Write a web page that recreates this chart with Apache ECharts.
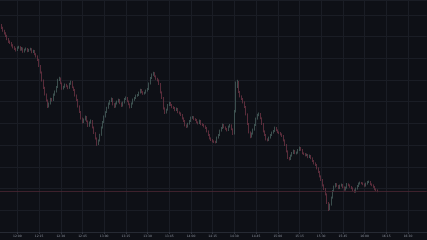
<!DOCTYPE html>
<html>
<head>
<meta charset="utf-8">
<script src="https://cdn.jsdelivr.net/npm/echarts@6/dist/echarts.min.js"></script>
<style>
html,body{margin:0;padding:0;background:#0e1016;}
#chart{width:427px;height:240px;}
</style>
</head>
<body>
<div id="chart"></div>
<script>
// 1-minute candles starting at 11:48
const startTime = '11:48';
const axisEndTime = '16:43';

const opens = [
20.95,20.68,20.41,20.12,19.87, 19.63,19.28,19.02,18.91,18.68, 18.47,18.31,18.18,18.42,18.49, 18.21,18.38,18.02,18.24,18.33,
18.09,18.22,18.31,17.98,18.12, 17.79,17.58,17.21,16.62,15.97, 15.18,14.43,13.77,13.18,12.52, 12.83,13.31,13.17,13.72,14.03,
14.48,15.21,15.38,14.87,14.32, 14.51,14.72,14.58,14.39,14.81, 15.02,14.47,14.21,13.68,13.22, 12.58,12.02,11.37,10.98,11.23,
11.52,11.08,10.61,10.92,11.12, 10.48,9.91,9.38,8.79,9.12, 9.71,10.42,10.98,11.53,11.97, 12.41,12.82,13.08,13.31,12.78,
12.52,12.83,13.02,13.21,12.88, 12.61,12.92,13.28,13.42,13.08, 12.79,12.48,12.83,13.22,13.38, 13.62,13.68,13.92,14.21,13.98,
13.82,13.91,14.12,14.28,14.83, 15.38,15.72,15.88,15.58,15.32, 15.18,14.82,13.98,13.42,12.38, 11.92,12.21,12.68,12.92,12.71,
12.48,12.42,12.18,12.32,11.98, 11.88,11.72,11.38,11.12,10.68, 10.52,10.81,11.08,11.42,11.48, 11.28,11.22,10.98,10.88,11.12,
10.78,10.72,10.58,10.42,10.08, 9.72,9.38,9.22,9.08,9.02, 8.98,9.42,9.68,10.12,10.38, 10.72,10.48,10.32,10.18,10.52,
10.68,10.28,9.82,12.02,14.58, 14.98,14.02,13.58,13.32,12.98, 12.52,11.78,10.82,9.98,9.52, 9.82,10.22,10.68,11.32,11.68,
11.82,11.38,10.82,10.08,9.72, 9.28,9.18,9.42,9.68,9.92, 10.08,10.42,10.18,9.98,9.92, 9.78,9.62,9.18,8.72,8.08,
7.42,7.28,7.62,7.88,8.12, 7.88,7.92,8.18,8.42,8.22, 7.88,7.82,7.68,7.72,7.48, 7.62,7.38,7.12,6.88,6.72,
6.38,6.02,5.58,5.22,4.68, 4.32,3.78,2.92,2.28,2.72, 3.42,4.08,4.52,4.78,4.62, 4.38,4.62,4.72,4.48,4.22,
4.42,4.78,4.68,4.52,4.38, 4.18,4.02,4.32,4.58,4.82, 4.92,4.88,4.78,4.62,4.82, 4.98,5.02,4.78,4.68,4.52,
4.28,4.18
];
const closes = [
20.68,20.41,20.12,19.87,19.63, 19.28,19.02,18.91,18.68,18.47, 18.31,18.18,18.42,18.49,18.21, 18.38,18.02,18.24,18.33,18.09,
18.22,18.31,17.98,18.12,17.79, 17.58,17.21,16.62,15.97,15.18, 14.43,13.77,13.18,12.52,12.83, 13.31,13.17,13.72,14.03,14.48,
15.21,15.38,14.87,14.32,14.51, 14.72,14.58,14.39,14.81,15.02, 14.47,14.21,13.68,13.22,12.58, 12.02,11.37,10.98,11.23,11.52,
11.08,10.61,10.92,11.12,10.48, 9.91,9.38,8.79,9.12,9.71, 10.42,10.98,11.53,11.97,12.41, 12.82,13.08,13.31,12.78,12.52,
12.83,13.02,13.21,12.88,12.61, 12.92,13.28,13.42,13.08,12.79, 12.48,12.83,13.22,13.38,13.62, 13.68,13.92,14.21,13.98,13.82,
13.91,14.12,14.28,14.83,15.38, 15.72,15.88,15.58,15.32,15.18, 14.82,13.98,13.42,12.38,11.92, 12.21,12.68,12.92,12.71,12.48,
12.42,12.18,12.32,11.98,11.88, 11.72,11.38,11.12,10.68,10.52, 10.81,11.08,11.42,11.48,11.28, 11.22,10.98,10.88,11.12,10.78,
10.72,10.58,10.42,10.08,9.72, 9.38,9.22,9.08,9.02,8.98, 9.42,9.68,10.12,10.38,10.72, 10.48,10.32,10.18,10.52,10.68,
10.28,9.82,12.02,14.58,14.98, 14.02,13.58,13.32,12.98,12.52, 11.78,10.82,9.98,9.52,9.82, 10.22,10.68,11.32,11.68,11.82,
11.38,10.82,10.08,9.72,9.28, 9.18,9.42,9.68,9.92,10.08, 10.42,10.18,9.98,9.92,9.78, 9.62,9.18,8.72,8.08,7.42,
7.28,7.62,7.88,8.12,7.88, 7.92,8.18,8.42,8.22,7.88, 7.82,7.68,7.72,7.48,7.62, 7.38,7.12,6.88,6.72,6.38,
6.02,5.58,5.22,4.68,4.32, 3.78,2.92,2.28,2.72,3.42, 4.08,4.52,4.78,4.62,4.38, 4.62,4.72,4.48,4.22,4.42,
4.78,4.68,4.52,4.38,4.18, 4.02,4.32,4.58,4.82,4.92, 4.88,4.78,4.62,4.82,4.98, 5.02,4.78,4.68,4.52,4.28,
4.18,4.08
];
const lows = [
20.55,20.30,20.02,19.75,19.50, 19.18,18.90,18.80,18.55,18.36, 18.20,18.05,18.10,18.33,18.12, 18.14,17.92,17.95,18.15,17.98,
18.01,18.14,17.88,17.90,17.68, 17.45,17.10,16.50,15.85,15.05, 14.30,13.65,13.05,12.40,12.45, 12.75,13.05,13.10,13.62,13.95,
14.40,15.10,14.78,14.22,14.25, 14.42,14.48,14.28,14.32,14.72, 14.38,14.10,13.55,13.10,12.45, 11.90,11.25,10.85,10.90,11.15,
10.98,10.50,10.52,10.84,10.36, 9.80,9.25,8.62,8.70,9.05, 9.62,10.35,10.90,11.45,11.90, 12.32,12.72,13.00,12.66,12.40,
12.44,12.75,12.94,12.78,12.50, 12.54,12.85,13.20,12.98,12.68, 12.36,12.40,12.75,13.12,13.30, 13.52,13.60,13.85,13.88,13.72,
13.74,13.84,14.04,14.20,14.75, 15.30,15.62,15.48,15.22,15.06, 14.70,13.86,13.30,12.25,11.80, 11.85,12.14,12.60,12.60,12.38,
12.30,12.08,12.10,11.88,11.76, 11.60,11.26,11.00,10.56,10.40, 10.45,10.74,11.00,11.32,11.18, 11.10,10.88,10.76,10.80,10.68,
10.60,10.46,10.30,9.96,9.60, 9.26,9.10,8.96,8.90,8.86, 8.90,9.34,9.60,10.04,10.30, 10.38,10.22,10.06,10.10,10.44,
10.18,9.70,9.75,11.95,14.40, 13.90,13.46,13.20,12.86,12.40, 11.66,10.70,9.86,9.38,9.44, 9.74,10.14,10.60,11.24,11.58,
11.28,10.70,9.96,9.60,9.16, 9.06,9.10,9.34,9.60,9.84, 10.00,10.08,9.88,9.80,9.66, 9.50,9.06,8.60,7.96,7.30,
7.16,7.20,7.54,7.80,7.78, 7.76,7.84,8.10,8.12,7.78, 7.70,7.56,7.58,7.38,7.40, 7.28,7.00,6.76,6.60,6.26,
5.90,5.46,5.10,4.56,4.20, 3.66,2.80,2.10,2.18,2.64, 3.34,4.00,4.44,4.52,4.28, 4.30,4.54,4.38,4.12,4.14,
4.34,4.58,4.42,4.28,4.08, 3.92,3.94,4.24,4.50,4.74, 4.78,4.68,4.52,4.54,4.74, 4.90,4.68,4.58,4.42,4.18,
4.08,3.98
];
const highs = [
21.08,20.80,20.52,20.22,19.98, 19.72,19.40,19.15,19.00,18.78, 18.58,18.42,18.55,18.62,18.58, 18.50,18.45,18.33,18.45,18.40,
18.32,18.42,18.38,18.22,18.20, 17.88,17.66,17.30,16.70,16.05, 15.25,14.52,13.85,13.25,12.95, 13.42,13.40,13.85,14.15,14.60,
15.32,15.52,15.45,14.95,14.62, 14.85,14.82,14.66,14.92,15.14, 15.10,14.55,14.30,13.75,13.30, 12.66,12.10,11.45,11.35,11.64,
11.60,11.15,11.05,11.25,11.20, 10.55,9.98,9.45,9.25,9.82, 10.55,11.10,11.65,12.08,12.52, 12.95,13.20,13.45,13.40,12.88,
12.95,13.14,13.33,13.30,12.96, 13.04,13.40,13.55,13.50,13.15, 12.86,12.95,13.34,13.50,13.74, 13.80,14.04,14.32,14.30,14.08,
14.02,14.24,14.40,14.95,15.50, 15.85,16.02,15.98,15.66,15.42, 15.26,14.90,14.06,13.50,12.46, 12.33,12.80,13.04,13.00,12.80,
12.58,12.50,12.44,12.40,12.06, 11.96,11.80,11.46,11.20,10.76, 10.92,11.20,11.54,11.60,11.58, 11.38,11.30,11.06,11.24,11.20,
10.88,10.80,10.66,10.50,10.16, 9.80,9.46,9.30,9.16,9.12, 9.54,9.80,10.24,10.50,10.84, 10.80,10.56,10.40,10.64,10.80,
10.76,10.36,12.20,15.05,15.22, 15.10,14.10,13.66,13.40,13.06, 12.60,11.86,10.90,10.06,9.94, 10.34,10.80,11.44,11.82,11.95,
11.90,11.46,10.90,10.16,9.80, 9.36,9.54,9.80,10.04,10.20, 10.54,10.50,10.26,10.06,10.00, 9.86,9.70,9.26,8.80,8.16,
7.50,7.74,8.00,8.24,8.20, 8.04,8.30,8.54,8.50,8.30, 7.96,7.90,7.84,7.80,7.74, 7.70,7.46,7.20,6.96,6.80,
6.46,6.10,5.66,5.30,4.76, 4.40,3.86,3.00,2.84,3.54, 4.20,4.64,4.90,4.88,4.70, 4.74,4.84,4.80,4.56,4.54,
4.90,4.86,4.76,4.60,4.46, 4.26,4.44,4.70,4.94,5.04, 5.00,4.96,4.86,4.94,5.10, 5.14,5.10,4.86,4.76,4.60,
4.36,4.26
];

// minute categories for the x axis (tick labels every 15 minutes)
function buildMinutes(from, to) {
  const toMin = s => { const [h, m] = s.split(':').map(Number); return h * 60 + m; };
  const out = [];
  for (let t = toMin(from); t <= toMin(to); t++) {
    const h = Math.floor(t / 60), m = t % 60;
    out.push(String(h).padStart(2, '0') + ':' + String(m).padStart(2, '0'));
  }
  return out;
}
const categories = buildMinutes(startTime, axisEndTime);
const candles = closes.map((c, i) => [opens[i], c, lows[i], highs[i]]);
const lastClose = closes[closes.length - 1];
const isQuarter = (idx, v) => /:(00|15|30|45)$/.test(v);

const chart = echarts.init(document.getElementById('chart'), null, {renderer: 'canvas'});
chart.setOption({
  backgroundColor: '#0e1016',
  animation: false,
  grid: {left: -0.38, right: 0.22, top: 0, bottom: 8, containLabel: false},
  xAxis: {
    type: 'category',
    data: categories,
    boundaryGap: false,
    axisLine: {show: true, lineStyle: {color: '#262a33', width: 1}},
    axisTick: {show: true, interval: isQuarter, length: 2, lineStyle: {color: '#333741'}},
    axisLabel: {show: true, interval: isQuarter, color: '#8f95a0', fontSize: 3, margin: 2.5, fontFamily: 'DejaVu Sans'},
    splitLine: {show: true, interval: isQuarter, lineStyle: {color: '#1a1d25', width: 1}}
  },
  yAxis: {
    type: 'value',
    min: 0,
    max: 23.2,
    interval: 2.172,
    axisLine: {show: false},
    axisTick: {show: false},
    axisLabel: {show: false},
    splitLine: {show: true, lineStyle: {color: '#1a1d25', width: 1}}
  },
  series: [{
    type: 'candlestick',
    data: candles,
    barWidth: 1,
    itemStyle: {
      color: '#4f6a66',
      color0: '#7a3a4b',
      borderColor: '#4f6a66',
      borderColor0: '#7a3a4b',
      borderWidth: 0.7
    },
    markLine: {
      silent: true,
      symbol: ['none', 'none'],
      label: {show: false},
      lineStyle: {color: '#4a2632', width: 0.8, type: 'solid'},
      data: [{yAxis: lastClose}]
    }
  }]
});
</script>
</body>
</html>
